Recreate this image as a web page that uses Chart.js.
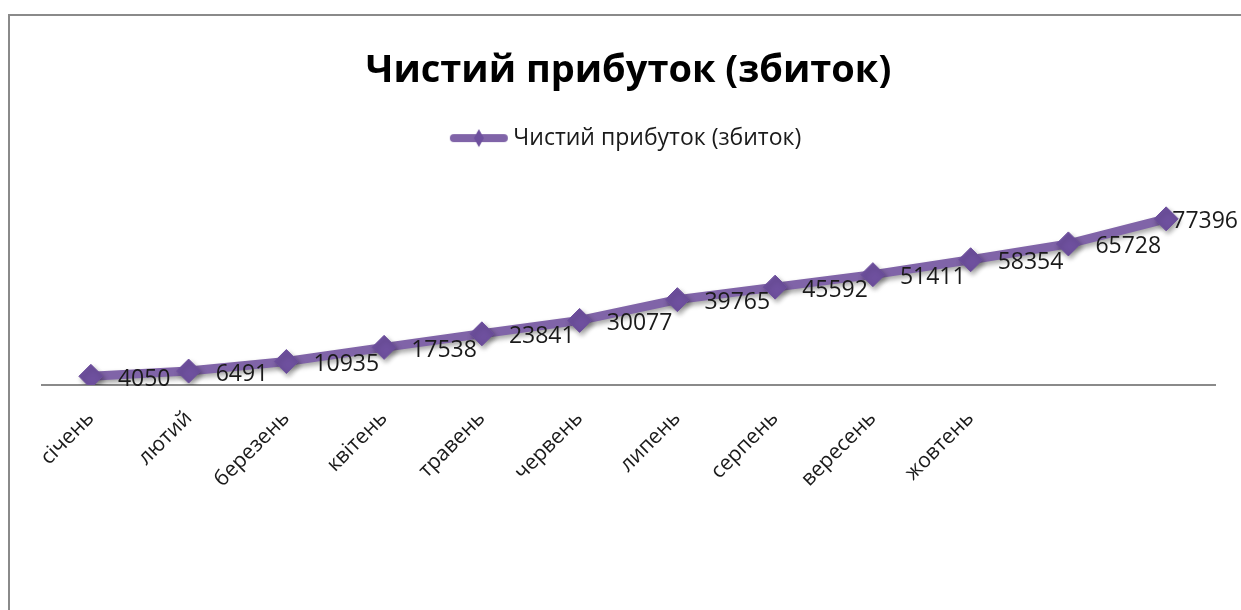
<!DOCTYPE html>
<html>
<head>
<meta charset="utf-8">
<script src="https://cdn.jsdelivr.net/npm/chart.js@4.4.1/dist/chart.umd.min.js"></script>
<style>
  html, body { margin: 0; padding: 0; background: #fff; }
  #wrap { position: relative; width: 1241px; height: 610px; overflow: hidden; }
  #frame {
    position: absolute; left: 8px; top: 14px; right: -10px; bottom: -10px;
    border-top: 2px solid #8a8a8a; border-left: 2px solid #8a8a8a;
    pointer-events: none;
  }
</style>
</head>
<body>
<div id="wrap">
  <canvas id="profitChart" width="1241" height="610"></canvas>
  <div id="frame"></div>
</div>
<script>
// Months (only the first ten are labelled on the axis)
const months = ['січень', 'лютий', 'березень', 'квітень', 'травень', 'червень',
                'липень', 'серпень', 'вересень', 'жовтень', '', ''];
// Net profit (loss) values per month
const netProfit = [4050, 6491, 10935, 17538, 23841, 30077, 39765, 45592, 51411, 58354, 65728, 77396];

const seriesName = 'Чистий прибуток (збиток)';
const lineColor = 'rgb(128, 100, 168)';
const markerColor = 'rgb(110, 80, 158)';
const fontFamily = '"Open Sans", "DejaVu Sans", sans-serif';

// Legend symbol: short thick line with a small diamond in the middle
function legendSymbol() {
    const c = document.createElement('canvas');
    c.width = 60;
    c.height = 22;
    const g = c.getContext('2d');
    g.strokeStyle = lineColor;
    g.lineWidth = 8;
    g.lineCap = 'round';
    g.beginPath();
    g.moveTo(5, 11);
    g.lineTo(55, 11);
    g.stroke();
    g.fillStyle = markerColor;
    g.beginPath();
    g.moveTo(30, 2);
    g.lineTo(35, 11);
    g.lineTo(30, 20);
    g.lineTo(25, 11);
    g.closePath();
    g.fill();
    return c;
}

// Soft drop shadow under the line and markers, then value labels on top
const shadowAndLabels = {
    id: 'shadowAndLabels',
    beforeDatasetsDraw(chart) {
        const ctx = chart.ctx;
        ctx.save();
        ctx.shadowColor = 'rgba(0, 0, 0, 0.35)';
        ctx.shadowBlur = 5;
        ctx.shadowOffsetX = 2;
        ctx.shadowOffsetY = 3;
    },
    afterDatasetsDraw(chart) {
        const ctx = chart.ctx;
        ctx.restore();
        const meta = chart.getDatasetMeta(0);
        ctx.save();
        ctx.font = '23px ' + fontFamily;
        ctx.fillStyle = '#1a1a1a';
        ctx.textBaseline = 'middle';
        ctx.textAlign = 'left';
        meta.data.forEach((pt, i) => {
            const text = String(chart.data.datasets[0].data[i]);
            const w = ctx.measureText(text).width;
            let x = pt.x + 27;
            if (x + w > chart.width - 3) x = chart.width - 3 - w;
            ctx.fillText(text, x, pt.y + 3);
        });
        ctx.restore();
    }
};

const ctx = document.getElementById('profitChart').getContext('2d');
const profitChart = new Chart(ctx, {
    type: 'line',
    data: {
        labels: months,
        datasets: [{
            label: seriesName,
            data: netProfit,
            borderColor: lineColor,
            backgroundColor: markerColor,
            borderWidth: 9,
            pointStyle: 'rectRot',
            pointRadius: 12,
            pointBorderWidth: 1,
            pointBorderColor: markerColor,
            pointBackgroundColor: markerColor,
            tension: 0,
            fill: false
        }]
    },
    options: {
        responsive: false,
        animation: false,
        layout: {
            padding: { top: 0, left: 42, right: 26, bottom: 0 }
        },
        scales: {
            x: {
                offset: true,
                grid: { display: false },
                border: { display: true, color: '#8a8a8a', width: 2 },
                ticks: {
                    autoSkip: false,
                    minRotation: 45,
                    maxRotation: 45,
                    padding: 13,
                    color: '#1a1a1a',
                    font: { family: fontFamily, size: 21 }
                },
                afterFit(scale) {
                    scale.height = 225;
                }
            },
            y: {
                display: false,
                min: 0,
                max: 105000
            }
        },
        plugins: {
            title: {
                display: true,
                text: seriesName,
                color: '#000',
                font: { family: fontFamily, size: 38, weight: 'bold' },
                padding: { top: 48, bottom: 13 }
            },
            legend: {
                display: true,
                position: 'top',
                labels: {
                    usePointStyle: true,
                    pointStyle: legendSymbol(),
                    pointStyleWidth: 46,
                    padding: 20,
                    color: '#1a1a1a',
                    font: { family: fontFamily, size: 23 }
                }
            },
            tooltip: { enabled: false }
        }
    },
    plugins: [shadowAndLabels]
});
</script>
</body>
</html>
